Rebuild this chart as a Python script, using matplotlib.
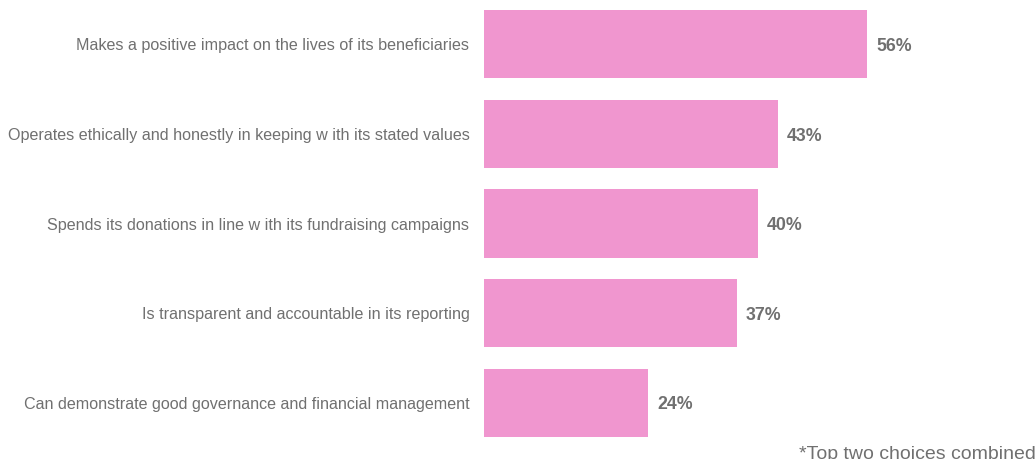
import matplotlib
matplotlib.use("Agg")
import matplotlib.pyplot as plt

plt.rcParams['font.family'] = ['Liberation Sans', 'DejaVu Sans']

categories = [
    "Makes a positive impact on the lives of its beneficiaries",
    "Operates ethically and honestly in keeping w ith its stated values",
    "Spends its donations in line w ith its fundraising campaigns",
    "Is transparent and accountable in its reporting",
    "Can demonstrate good governance and financial management",
]
values = [56, 43, 40, 37, 24]
footnote = "*Top two choices combined"

bar_color = "#F096CF"
text_color = "#707070"

fig = plt.figure(figsize=(10.36, 4.59), dpi=100)
ax = fig.add_axes([484 / 1036, 0, 1 - 484 / 1036, 1])

pos = list(range(len(categories)))
ax.barh(pos, values, height=0.76, color=bar_color, edgecolor="none")
ax.set_xlim(0, 80.7)
ax.set_ylim(4.631, -0.497)

ax.set_yticks(pos)
ax.set_yticklabels(categories, fontsize=11.6, color=text_color)
ax.tick_params(axis="y", length=0, pad=10.5)
ax.set_xticks([])
for s in ax.spines.values():
    s.set_visible(False)

for p, v in zip(pos, values):
    ax.annotate(f"{v}%", xy=(v, p), xytext=(6.5, -1.5), textcoords="offset points",
                ha="left", va="center", fontsize=12.8, fontweight="bold",
                color=text_color)

fig.text(1.0, -0.008, footnote, ha="right", va="bottom", fontsize=14,
         color=text_color)

fig.savefig("out.png", dpi=100)
